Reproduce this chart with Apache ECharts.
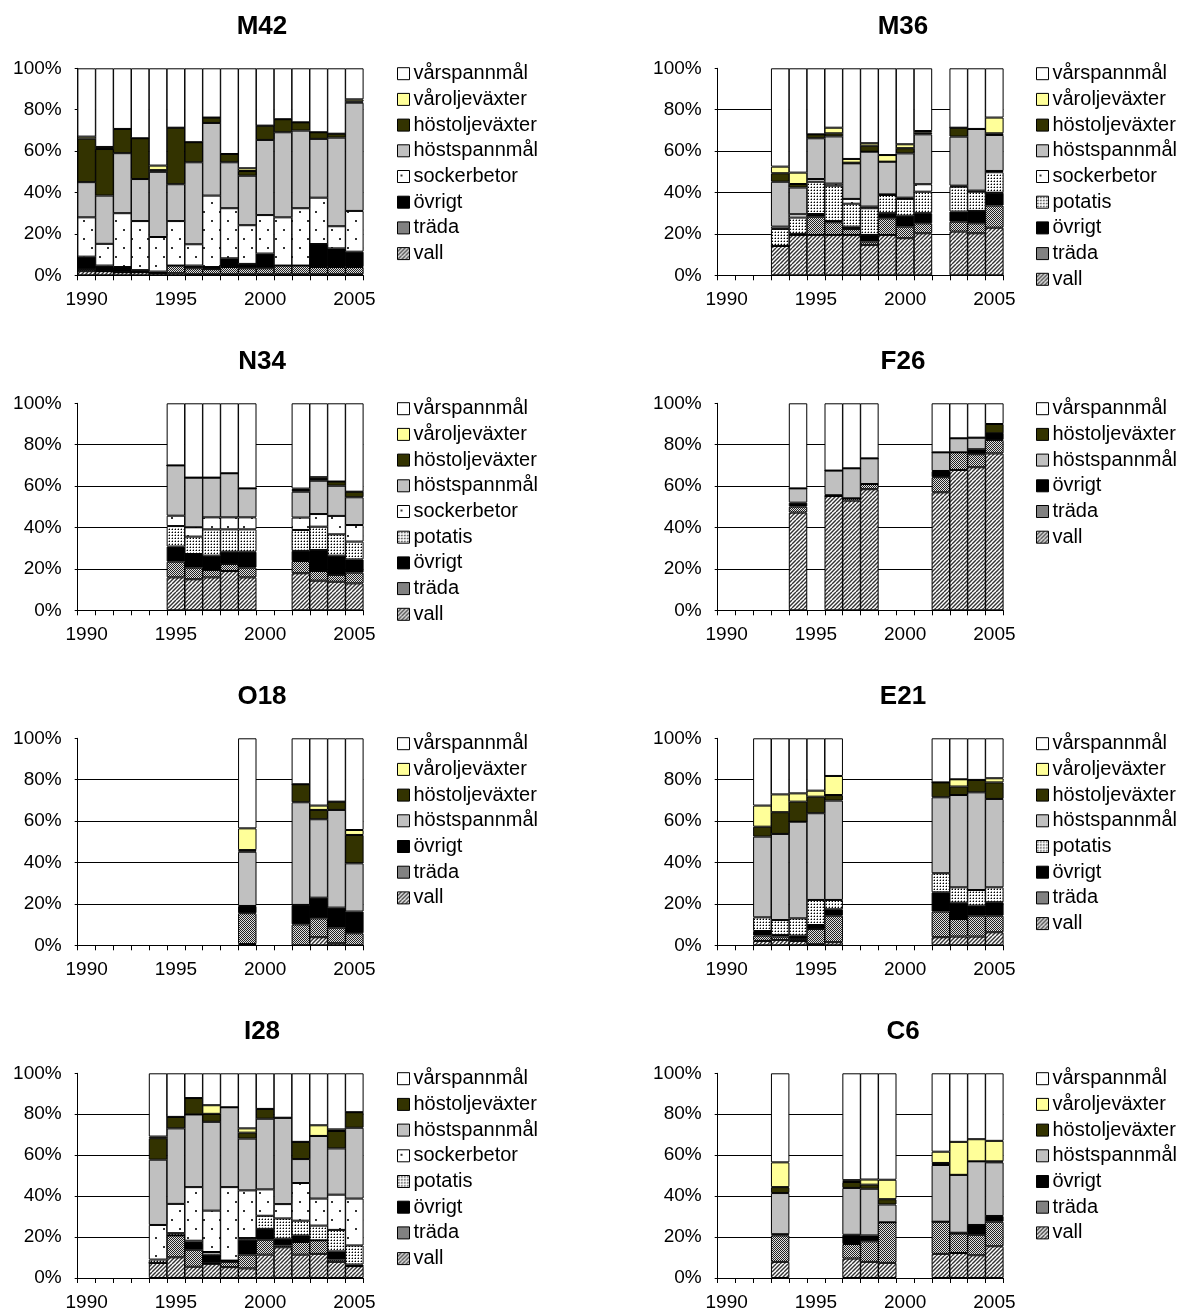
<!DOCTYPE html>
<html><head><meta charset="utf-8">
<script src="https://cdn.jsdelivr.net/npm/echarts@6/dist/echarts.min.js"></script>
<style>html,body{margin:0;padding:0;background:#fff}#c{width:1183px;height:1312px}</style>
</head><body><div id="c"></div>
<script>
const years = ['1990','1991','1992','1993','1994','1995','1996','1997','1998','1999','2000','2001','2002','2003','2004','2005'];
const n = null;

// ---- M42 ----
const m42_vall     = [2,2,1.5,1.5,1,1,0.5,0.5,0.5,0.5,0.5,0.5,0.5,0.5,0.5,0.5];
const m42_trada    = [1,0,0,0,0,3.7,2.9,2.5,3.5,2.9,2.9,4.2,4.2,3.5,3.5,3.5];
const m42_ovrigt   = [6,2.7,2.5,1,0.8,0,1.3,1,4.2,2.1,7.1,0,0,11.1,9,7.4];
const m42_socker   = [19,10.5,26,23.7,16.7,21.5,10.3,34.5,24.2,18.7,18.6,23.3,27.7,22.4,10.7,19.7];
const m42_hostsp   = [17,23.3,29,20.3,31.5,17.8,39.6,35.1,22.2,23.9,36.3,41.1,37.5,28.4,42.8,52.3];
const m42_hostolje = [21,22.5,11.7,19.7,0.8,27.3,9.7,2.6,4,2.3,6.9,6.3,4,3.2,1.9,0.6];
const m42_varolje  = [1,1,0,0,2.2,0,0,0,0,1.3,0,0,0,0,0,1];
const m42_varsp    = [33,38,29.3,33.8,47,28.7,35.7,23.8,41.4,48.3,27.7,24.6,26.1,30.9,31.6,15];

// ---- M36 ----
const m36_vall     = [n,n,n,14.2,19.5,19.5,19.5,19.5,14.7,19.5,17.9,20.3,n,21.1,20.3,23];
const m36_trada    = [n,n,n,0,0,8.8,6.1,2.9,1.6,8,5.6,4.8,n,4.8,4.8,10.7];
const m36_ovrigt   = [n,n,n,0,0.5,1.3,0.6,1.1,3.2,2.5,5.3,4.9,n,4.9,6,6.2];
const m36_potatis  = [n,n,n,8.2,7.9,15.6,17.1,11.1,12.9,8.8,8.1,10.4,n,12,9.3,9.9];
const m36_socker   = [n,n,n,1.1,1.6,1.3,1,2.3,0.8,0.3,0.6,3.6,n,0.5,0.5,0.6];
const m36_hostsp   = [n,n,n,21.7,12.9,19.7,22.8,17.2,26.5,15.8,21.4,24.1,n,23.7,29.8,17.4];
const m36_hostolje = [n,n,n,4.1,1.7,1.9,1.5,0.3,2.9,0,2.5,0.8,n,4.3,0,0.8];
const m36_varolje  = [n,n,n,3.2,5.5,0,2.7,1.8,1.2,3.2,1.9,0.8,n,0,0,7.6];
const m36_varsp    = [n,n,n,47.5,50.4,31.9,28.7,43.8,36.2,41.9,36.7,30.3,n,28.7,29.3,23.8];

// ---- N34 ----
const n34_vall     = [n,n,n,n,n,15.9,15,15.9,19,15.9,n,n,17.9,14.3,13.8,13];
const n34_trada    = [n,n,n,n,n,7.6,5.6,3.6,3.4,4.7,n,n,5.9,4.7,3.3,5.2];
const n34_ovrigt   = [n,n,n,n,n,7.3,6.6,6.9,5.9,7.7,n,n,4.9,10.1,9.3,6.4];
const n34_potatis  = [n,n,n,n,n,9.9,8.4,12.7,10.8,10.8,n,n,10.1,11.3,10.3,8.6];
const n34_socker   = [n,n,n,n,n,5,4.5,5.8,5.8,5.8,n,n,6,6.1,8.9,8];
const n34_hostsp   = [n,n,n,n,n,24.3,24,19.2,21.3,14,n,n,12.5,16.1,14.6,13.4];
const n34_hostolje = [n,n,n,n,n,0,0,0,0,0,n,n,0.8,0.8,2,2.7];
const n34_varolje  = [n,n,n,n,n,0,0,0,0,0,n,n,0.7,0.9,0,0];
const n34_varsp    = [n,n,n,n,n,30,35.9,35.9,33.8,41.1,n,n,41.2,35.7,37.8,42.7];

// ---- F26 ----
const f26_vall     = [n,n,n,n,47.2,n,55.2,53,58.5,n,n,n,57,67.8,69.1,75.8];
const f26_trada    = [n,n,n,n,2.9,n,0,1.1,2.5,n,n,n,7.3,8.5,6.3,6.5];
const f26_ovrigt   = [n,n,n,n,1.9,n,0.4,0,0,n,n,n,3,0,2.4,3.2];
const f26_hostsp   = [n,n,n,n,6.9,n,11.9,14.5,12.4,n,n,n,9,6.8,5.6,0];
const f26_hostolje = [n,n,n,n,0,n,0,0,0,n,n,n,0,0,0,4.5];
const f26_varsp    = [n,n,n,n,41.1,n,32.5,31.4,26.6,n,n,n,23.7,16.9,16.6,10];

// ---- O18 ----
const o18_vall     = [n,n,n,n,n,n,n,n,n,0.6,n,n,0,3.9,1,0];
const o18_trada    = [n,n,n,n,n,n,n,n,n,14.9,n,n,10.1,9.1,7.5,5.8];
const o18_ovrigt   = [n,n,n,n,n,n,n,n,n,3.5,n,n,9.4,10,9.7,10.5];
const o18_hostsp   = [n,n,n,n,n,n,n,n,n,26.2,n,n,49.6,37.9,47.2,23.3];
const o18_hostolje = [n,n,n,n,n,n,n,n,n,0.8,n,n,8.7,4.5,4,13.7];
const o18_varolje  = [n,n,n,n,n,n,n,n,n,10.5,n,n,0,2.1,0,2.4];
const o18_varsp    = [n,n,n,n,n,n,n,n,n,43.5,n,n,22.2,32.5,30.6,44.3];

// ---- E21 ----
const e21_vall     = [n,n,2.1,2.6,2.1,0.5,1.5,n,n,n,n,n,3.9,4.2,4.2,6.3];
const e21_trada    = [n,n,2.6,1.6,1,7.4,12.8,n,n,n,n,n,12.4,8.5,10.1,8];
const e21_ovrigt   = [n,n,2.2,0.8,1.6,1.9,3.1,n,n,n,n,n,9.3,7.9,4.9,6.5];
const e21_potatis  = [n,n,6.6,7.2,8.3,12.1,4.5,n,n,n,n,n,9.2,7.4,7.5,7.2];
const e21_hostsp   = [n,n,39,41.6,46.7,41.9,48,n,n,n,n,n,36.7,44.6,47.2,42.7];
const e21_hostolje = [n,n,4.8,10.5,9.7,8,2.7,n,n,n,n,n,7.2,4.1,6,8];
const e21_varolje  = [n,n,10.2,8.6,4,2.9,9.2,n,n,n,n,n,0,3.5,0,2];
const e21_varsp    = [n,n,32.5,27.1,26.6,25.3,18.2,n,n,n,n,n,21.3,19.8,20.1,19.3];

// ---- I28 ----
const i28_vall     = [n,n,n,n,7.4,10.1,5.5,6.9,5.3,4.7,11.4,15,11.4,11.8,7.9,5.8];
const i28_trada    = [n,n,n,n,0,10.7,8.3,0.5,2.6,6.7,7.3,0.9,6.2,6.6,1.1,0];
const i28_ovrigt   = [n,n,n,n,0,0,3.3,4,0.6,7.3,5.3,3.3,3.2,0,4,0.8];
const i28_potatis  = [n,n,n,n,1.6,1.1,1.1,1.3,0,0.8,6.4,9.9,7.2,7.2,10.5,9.3];
const i28_socker   = [n,n,n,n,16.9,14.3,26.2,20.2,35.9,23.3,12.9,7,18.4,13.2,17.2,22.9];
const i28_hostsp   = [n,n,n,n,31.9,36.9,35.5,43.4,39,25.3,34.5,42.2,11.7,30.6,22.6,34.6];
const i28_hostolje = [n,n,n,n,10.5,5.6,8,3.9,0,2.9,4.8,0,8.4,0,8.5,7.6];
const i28_varolje  = [n,n,n,n,0.8,0,0,4.2,0,2.1,0,0,0,5.2,0.8,0];
const i28_varsp    = [n,n,n,n,30.9,21.3,12.1,15.6,16.6,26.9,17.4,21.7,33.5,25.4,27.4,19];

// ---- C6 ----
const c6_vall      = [n,n,n,7.9,n,n,n,9.5,7.9,7.4,n,n,11.8,12.2,11.1,15.5];
const c6_trada     = [n,n,n,12.9,n,n,n,7.1,10,19.8,n,n,15.7,9.5,10,12];
const c6_ovrigt    = [n,n,n,0.6,n,n,n,4.5,2.9,0,n,n,0,0.4,4.8,2.8];
const c6_hostsp    = [n,n,n,20.1,n,n,n,22.9,22.8,8.7,n,n,27.7,28.3,31.1,26.2];
const c6_hostolje  = [n,n,n,2.9,n,n,n,2.9,2,2.6,n,n,1,0,0,0.5];
const c6_varolje   = [n,n,n,12.1,n,n,n,0.9,2.5,9.5,n,n,5.5,16.1,10.8,10];
const c6_varsp     = [n,n,n,43.5,n,n,n,52.2,51.9,52,n,n,38.3,33.5,32.2,33];

const titles = ['M42','M36','N34','F26','O18','E21','I28','C6'];
const yTicks = [0,20,40,60,80,100];

// Crop names
const VS='vårspannmål', VO='våroljeväxter', HO='höstoljeväxter', HS='höstspannmål',
      SB='sockerbetor', PO='potatis', OV='övrigt', TR='träda', VA='vall';

const panelSeries = [
  [[VA,m42_vall],[TR,m42_trada],[OV,m42_ovrigt],[SB,m42_socker],[HS,m42_hostsp],[HO,m42_hostolje],[VO,m42_varolje],[VS,m42_varsp]],
  [[VA,m36_vall],[TR,m36_trada],[OV,m36_ovrigt],[PO,m36_potatis],[SB,m36_socker],[HS,m36_hostsp],[HO,m36_hostolje],[VO,m36_varolje],[VS,m36_varsp]],
  [[VA,n34_vall],[TR,n34_trada],[OV,n34_ovrigt],[PO,n34_potatis],[SB,n34_socker],[HS,n34_hostsp],[HO,n34_hostolje],[VO,n34_varolje],[VS,n34_varsp]],
  [[VA,f26_vall],[TR,f26_trada],[OV,f26_ovrigt],[HS,f26_hostsp],[HO,f26_hostolje],[VS,f26_varsp]],
  [[VA,o18_vall],[TR,o18_trada],[OV,o18_ovrigt],[HS,o18_hostsp],[HO,o18_hostolje],[VO,o18_varolje],[VS,o18_varsp]],
  [[VA,e21_vall],[TR,e21_trada],[OV,e21_ovrigt],[PO,e21_potatis],[HS,e21_hostsp],[HO,e21_hostolje],[VO,e21_varolje],[VS,e21_varsp]],
  [[VA,i28_vall],[TR,i28_trada],[OV,i28_ovrigt],[PO,i28_potatis],[SB,i28_socker],[HS,i28_hostsp],[HO,i28_hostolje],[VO,i28_varolje],[VS,i28_varsp]],
  [[VA,c6_vall],[TR,c6_trada],[OV,c6_ovrigt],[HS,c6_hostsp],[HO,c6_hostolje],[VO,c6_varolje],[VS,c6_varsp]]
];
const panelLegends = [
  [VS,VO,HO,HS,SB,OV,TR,VA],
  [VS,VO,HO,HS,SB,PO,OV,TR,VA],
  [VS,VO,HO,HS,SB,PO,OV,TR,VA],
  [VS,HO,HS,OV,TR,VA],
  [VS,VO,HO,HS,OV,TR,VA],
  [VS,VO,HO,HS,PO,OV,TR,VA],
  [VS,HO,HS,SB,PO,OV,TR,VA],
  [VS,VO,HO,HS,OV,TR,VA]
];

function pat(w,h,draw){const c=document.createElement('canvas');c.width=w;c.height=h;const g=c.getContext('2d');draw(g);return {image:c,repeat:'repeat'};}
const fills = {};
fills[VS]='#ffffff';
fills[VO]='#ffff99';
fills[HO]='#333300';
fills[HS]='#c0c0c0';
fills[OV]='#000000';
fills[VA]=pat(8,8,g=>{g.fillStyle='#fff';g.fillRect(0,0,8,8);g.strokeStyle='#333';g.lineWidth=1.4;for(let o=-8;o<=16;o+=4){g.beginPath();g.moveTo(o,8);g.lineTo(o+8,0);g.stroke();}});
fills[TR]=pat(2,2,g=>{g.fillStyle='#e0e0e0';g.fillRect(0,0,2,2);g.fillStyle='#222';g.fillRect(0,0,1,1);g.fillRect(1,1,1,1);});
fills[PO]=pat(3,3,g=>{g.fillStyle='#fff';g.fillRect(0,0,3,3);g.fillStyle='#000';g.fillRect(1,1,1,1);g.fillStyle='#999';g.fillRect(0,1,1,1);g.fillRect(1,0,1,1);});
fills[SB]=pat(16,18,g=>{g.fillStyle='#fff';g.fillRect(0,0,16,18);g.fillStyle='#333';g.fillRect(3,4,2,2);g.fillRect(11,13,2,2);});

const colLeft=[77.7,717.7], plotW=285.6, rowTop=[68.3,403.3,738.3,1073.3], plotH=207;
const titleX=[262,903], legendX=[397,1036];
const FONT='"Liberation Sans", Arial, sans-serif';
const bandW = plotW/years.length;

const option={animation:false,textStyle:{fontFamily:FONT},title:[],grid:[],xAxis:[],yAxis:[],legend:[],series:[]};
for(let i=0;i<8;i++){
  const c=i%2, r=Math.floor(i/2);
  option.title.push({text:titles[i],left:titleX[c],top:rowTop[r]-54,textAlign:'center',padding:0,
    textStyle:{fontFamily:FONT,fontSize:26,fontWeight:'bold',color:'#000'}});
  option.grid.push({left:colLeft[c],top:rowTop[r],width:plotW,height:plotH});
  option.xAxis.push({type:'category',gridIndex:i,data:years,boundaryGap:true,
    axisLine:{show:true,lineStyle:{color:'#000',width:1}},
    axisTick:{show:true,interval:0,length:5,lineStyle:{color:'#000'}},
    axisLabel:{interval:(idx)=>idx%5===0,fontSize:19,color:'#000',margin:15,fontFamily:FONT},
    splitLine:{show:false}});
  option.yAxis.push({type:'value',gridIndex:i,min:yTicks[0],max:yTicks[yTicks.length-1],interval:20,
    axisLine:{show:true,lineStyle:{color:'#000',width:1}},
    axisTick:{show:true,length:3,lineStyle:{color:'#000'}},
    axisLabel:{formatter:'{value}%',fontSize:19,color:'#000',margin:16,fontFamily:FONT},
    splitLine:{show:true,showMaxLine:false,lineStyle:{color:'#000',width:1}}});
  option.legend.push({orient:'vertical',left:legendX[c],top:rowTop[r]-4.6,padding:0,itemGap:5.7,
    itemWidth:12,itemHeight:12,icon:'rect',selectedMode:false,data:panelLegends[i],
    itemStyle:{borderColor:'#000',borderWidth:1},
    textStyle:{fontSize:20,lineHeight:20,color:'#000',fontFamily:FONT,padding:[0,0,0,-1]}});
  panelSeries[i].forEach(([name,data])=>{
    option.series.push({type:'bar',name:name,xAxisIndex:i,yAxisIndex:i,stack:'s'+i,data:data,
      barWidth:bandW+0.6,barCategoryGap:'0%',barGap:'0%',silent:true,emphasis:{disabled:true},
      itemStyle:{color:fills[name],borderColor:'#000',borderWidth:1}});
  });
}
const chart=echarts.init(document.getElementById('c'),null,{renderer:'canvas'});
chart.setOption(option);
</script>
</body></html>
